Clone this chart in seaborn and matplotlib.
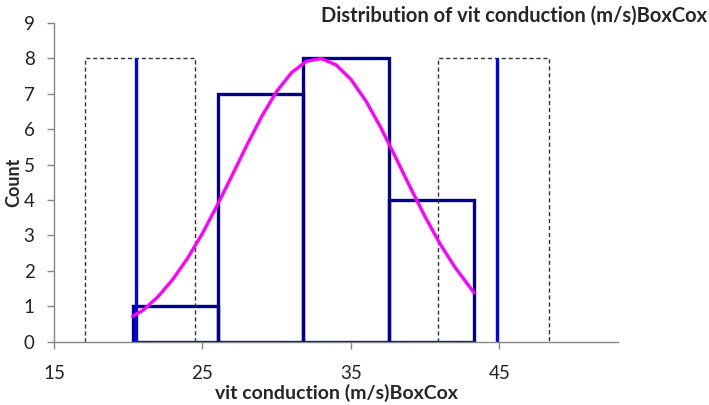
import numpy as np
import matplotlib
matplotlib.use("Agg")
import matplotlib.pyplot as plt
import seaborn as sns

# histogram bins and counts
bin_edges = [20.3, 26.05, 31.8, 37.55, 43.3]
counts = [1, 7, 8, 4]

# fitted curve
curve_x = [20.3, 21, 22, 23, 24, 25, 26, 27, 28, 29, 30, 31, 32, 33,
           34, 35, 36, 37, 38, 39, 40, 41, 42, 43, 43.3]
curve_y = [0.72, 0.89, 1.27, 1.76, 2.36, 3.06, 3.86, 4.70, 5.56, 6.37, 7.07, 7.60, 7.92, 8.0,
           7.82, 7.41, 6.81, 6.06, 5.22, 4.36, 3.53, 2.77, 2.11, 1.55, 1.38]

# blue reference lines and dashed boxes around them
ref_x = [20.55, 44.85]
ref_h = 8
box_lo = [17.1, 40.9]
box_hi = [24.5, 48.35]
box_h = 8

xticks = [15, 25, 35, 45]
yticks = list(range(0, 10))

sns.set_style("white")
plt.rcParams['font.family'] = ['Lato', 'DejaVu Sans']

fig = plt.figure(figsize=(7.09, 4.05), dpi=100)
ax = fig.add_axes([0.0762, 0.1563, 0.7955, 0.7867])

# dashed boxes
for lo, hi in zip(box_lo, box_hi):
    ax.plot([lo, lo, hi, hi], [0, box_h, box_h, 0], color='#333333', lw=1.0, ls=(0, (3, 2)))

# histogram bars (outline only)
centers = [(a + b) / 2 for a, b in zip(bin_edges[:-1], bin_edges[1:])]
sns.histplot(x=centers, weights=counts, bins=bin_edges, fill=False,
             element="bars", color='#00008B', linewidth=2.4, ax=ax)

# blue lines
ax.vlines(ref_x, 0, ref_h, color='#0000FF', lw=2.4)

# magenta fit
sns.lineplot(x=curve_x, y=curve_y, color='#FF00FF', lw=2.4, ax=ax)

ax.set_xlim(15, 53)
ax.set_ylim(0, 9)
ax.set_xticks(xticks)
ax.set_yticks(yticks)
ax.tick_params(axis='both', labelsize=13.5, color='#868686', length=5, width=1,
               direction='out', bottom=True, left=True, labelcolor='#222222')
ax.tick_params(axis='x', pad=12)
ax.tick_params(axis='y', pad=9)
for s in ['top', 'right']:
    ax.spines[s].set_visible(False)
for s in ['left', 'bottom']:
    ax.spines[s].set_color('#868686')
    ax.spines[s].set_linewidth(1)

ax.set_xlabel("vit conduction (m/s)BoxCox", fontsize=14, fontweight='bold', labelpad=1)
ax.set_ylabel("Count", fontsize=13, fontweight='bold')
ax.yaxis.set_label_coords(-0.056, 0.5)
fig.text(0.997, 0.962, "Distribution of vit conduction (m/s)BoxCox", ha='right', va='center',
         fontsize=14.5, fontweight='bold')

fig.savefig("out.png", dpi=100)
